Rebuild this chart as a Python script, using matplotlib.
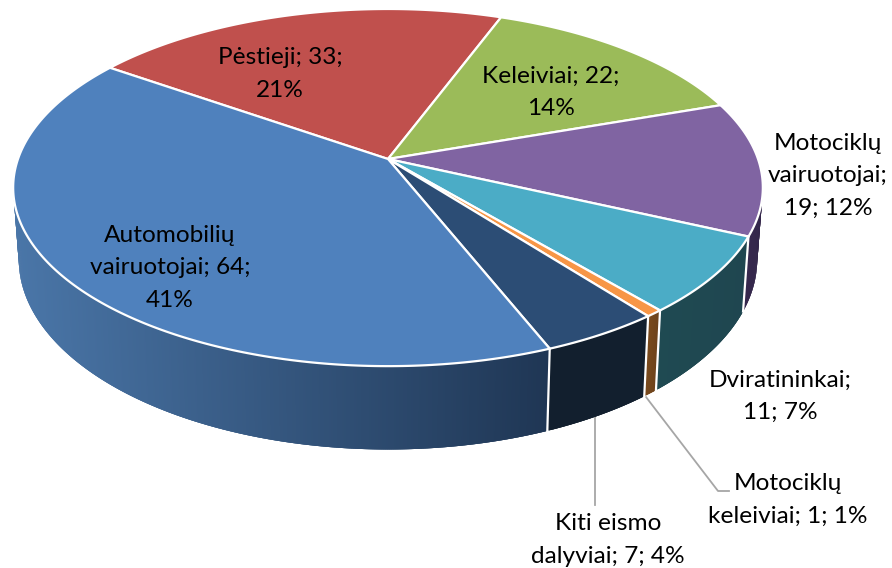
import numpy as np
import matplotlib
matplotlib.use("Agg")
import matplotlib.pyplot as plt

names = ["Pėstieji", "Keleiviai", "Motociklų vairuotojai", "Dviratininkai",
         "Motociklų keleiviai", "Kiti eismo dalyviai", "Automobilių vairuotojai"]
values = [33, 22, 19, 11, 1, 7, 64]
label_text = ["Pėstieji; 33;\n21%", "Keleiviai; 22;\n14%",
              "Motociklų\nvairuotojai;\n19; 12%", "Dviratininkai;\n11; 7%",
              "Motociklų\nkeleiviai; 1; 1%", "Kiti eismo\ndalyviai; 7; 4%",
              "Automobilių\nvairuotojai; 64;\n41%"]
top_colors = ["#c0504d", "#9bbb59", "#8064a2", "#4bacc6", "#f79646", "#2c4d75", "#4f81bd"]
side_left = ["#7a2f2d", "#5c7035", "#3f2f57", "#1f4a52", "#7a4a1c", "#121f2e", "#4a76a8"]
side_right = ["#7a2f2d", "#5c7035", "#33264a", "#1f4650", "#6b421c", "#121f2e", "#1f3654"]
label_pos = [(280, 74), (551, 92), (828, 176), (780, 396), (788, 500), (608, 540), (170, 268)]

START_DEG = -55.1
CX, CY = 388, 159
RX, RY = 370, 174
K = 0.16
DEPTH = 70
BOTTOM_SHRINK = 0.985


def project(theta, drop=0.0):
    u = np.sin(theta)
    v = -np.cos(theta)
    w = 1 - K * v
    x = RX * u / w
    if drop:
        x = x * BOTTOM_SHRINK
    return CX + x, CY + (RY * v + drop) / w


fig = plt.figure(figsize=(8.92, 5.68), dpi=100)
ax = fig.add_axes([0, 0, 1, 1])
ax.set_xlim(0, 892)
ax.set_ylim(568, 0)
ax.axis("off")

total = sum(values)
edges = np.radians(START_DEG + np.cumsum([0] + values) / total * 360)

# side wall first; strips overlap each other so no seams show through
for i in range(len(values)):
    a0, a1 = edges[i], edges[i + 1]
    ts = np.linspace(a0, a1, max(int(np.degrees(a1 - a0) * 4), 6))
    c0 = np.array(matplotlib.colors.to_rgb(side_left[i]))
    c1 = np.array(matplotlib.colors.to_rgb(side_right[i]))
    xs_all = project(ts)[0]
    x_lo, x_hi = xs_all.min(), xs_all.max()
    if xs_all[0] > xs_all[-1]:
        ts = ts[::-1]
    for j in range(len(ts) - 1):
        t0 = ts[j]
        t1 = ts[min(j + 3, len(ts) - 1)]
        if np.cos((t0 + t1) / 2) > 0.3:
            continue
        x0, y0 = project(t0)
        x1, y1 = project(t1)
        x2, y2 = project(t1, DEPTH)
        x3, y3 = project(t0, DEPTH)
        f = (x0 - x_lo) / max(x_hi - x_lo, 1)
        col = c1 * f + c0 * (1 - f)
        ax.fill([x0, x1, x2, x3], [y0, y1, y2, y3], color=col, lw=0, zorder=2)

# white seams between the slices on the wall
for a in edges[:-1]:
    if np.cos(a) < 0.1:
        xa, ya = project(a)
        xb, yb = project(a, DEPTH)
        ax.plot([xa, xb], [ya, yb], color="white", lw=1.6, zorder=3)

# top face
for i in range(len(values)):
    ts = np.linspace(edges[i], edges[i + 1], 200)
    xs, ys = project(ts)
    ax.fill(np.r_[CX, xs], np.r_[CY, ys], facecolor=top_colors[i],
            edgecolor="white", lw=1.6, joinstyle="round", zorder=4)

# leader lines
ax.plot([595, 595], [417, 505], color="#a6a6a6", lw=1.3, zorder=1)
ax.plot([646, 718, 729], [397, 491, 491], color="#a6a6a6", lw=1.3, zorder=1)

for text, (x, y) in zip(label_text, label_pos):
    ax.text(x, y, text, ha="center", va="center", fontsize=17.6, family="Lato",
            color="black", linespacing=1.65, zorder=5)

fig.savefig("out.png", dpi=100)
